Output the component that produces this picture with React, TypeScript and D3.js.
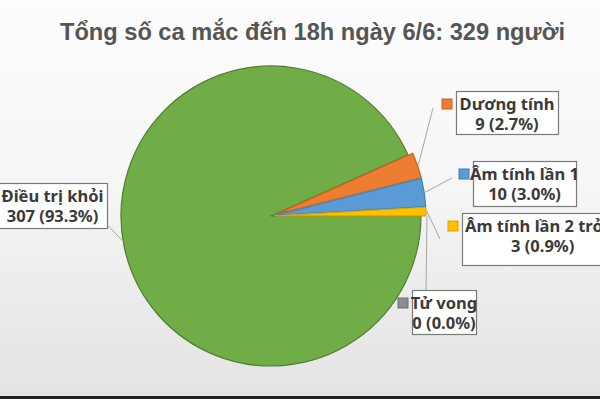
import * as d3 from "d3";
import React from "react";

const categories = ["Dương tính", "Âm tính lần 1", "Âm tính lần 2 trở lên", "Tử vong", "Điều trị khỏi"];
const values = [9, 10, 3, 0, 307];
const valueLabels = ["9 (2.7%)", "10 (3.0%)", "3 (0.9%)", "0 (0.0%)", "307 (93.3%)"];
const colors = ["#ed7d31", "#5b9bd5", "#ffc000", "#8c8c8c", "#70ad47"];
const strokes = ["#c8631e", "#3f7fb8", "#d9a400", "#6f6f6f", "#507e32"];

// label box layout: x, y, w, h, and callout anchor point
const boxes = [
  { x: 456, y: 91, w: 102, h: 43, ax: 433, ay: 108, key: true },
  { x: 473, y: 161, w: 103, h: 45, ax: 452, ay: 178, key: true },
  { x: 462, y: 213, w: 160, h: 52, ax: 440, ay: 239, key: true },
  { x: 412, y: 290, w: 64, h: 44, ax: 426, ay: 290, key: true },
  { x: -2, y: 183, w: 109, h: 45, ax: 85, ay: 202, key: false },
];

const App: React.FC = () => {
  const ref = React.useRef<SVGSVGElement>(null);

  React.useEffect(() => {
    const width = 600;
    const height = 399;
    const cx = 271;
    const cy = 216;
    const radius = 150;
    const explode = 5;

    const svg = d3.select(ref.current);
    svg.selectAll("*").remove();

    const defs = svg.append("defs");
    const grad = defs
      .append("linearGradient")
      .attr("id", "bg")
      .attr("x1", 0)
      .attr("y1", 0)
      .attr("x2", 0)
      .attr("y2", 1);
    grad.append("stop").attr("offset", "0%").attr("stop-color", "#fdfdfd");
    grad.append("stop").attr("offset", "45%").attr("stop-color", "#f6f6f6");
    grad.append("stop").attr("offset", "100%").attr("stop-color", "#e3e3e3");

    svg.append("rect").attr("width", width).attr("height", height).attr("fill", "url(#bg)");
    svg.append("rect").attr("y", 396).attr("width", width).attr("height", 3).attr("fill", "#222");

    svg
      .append("text")
      .attr("x", 60)
      .attr("y", 39.5)
      .attr("font-family", "Liberation Sans, Arial, sans-serif")
      .attr("font-weight", "bold")
      .attr("font-size", 23.5)
      .attr("textLength", 505)
      .attr("lengthAdjust", "spacingAndGlyphs")
      .attr("fill", "#555555")
      .text("Tổng số ca mắc đến 18h ngày 6/6: 329 người");

    const smallTotal = d3.sum(values.slice(0, 4));
    const total = d3.sum(values);
    const start = Math.PI / 2 - (smallTotal / total) * 2 * Math.PI;

    const pie = d3
      .pie<number>()
      .sort(null)
      .startAngle(start)
      .endAngle(start + 2 * Math.PI);
    const arcs = pie(values);

    const arc = d3.arc<d3.PieArcDatum<number>>().innerRadius(0).outerRadius(radius);

    const g = svg.append("g").attr("transform", `translate(${cx},${cy})`);

    const offset = (d: d3.PieArcDatum<number>, i: number) => {
      if (i === 4) return [0, 0];
      const mid = (d.startAngle + d.endAngle) / 2;
      return [Math.sin(mid) * explode, -Math.cos(mid) * explode];
    };

    // draw green first, then the exploded slices
    const order = [4, 0, 1, 2, 3];
    order.forEach((i) => {
      const d = arcs[i];
      if (d.value === 0) return;
      const [ox, oy] = offset(d, i);
      g.append("path")
        .attr("d", arc(d) as string)
        .attr("transform", `translate(${ox},${oy})`)
        .attr("fill", colors[i])
        .attr("stroke", strokes[i])
        .attr("stroke-width", 1.2)
        .attr("stroke-linejoin", "round");
    });

    // callout lines
    const font = "Noto Sans, Open Sans, sans-serif";
    arcs.forEach((d, i) => {
      const b = boxes[i];
      const [ox, oy] = offset(d, i);
      const mid = (d.startAngle + d.endAngle) / 2;
      const r = i === 4 ? radius : radius + 1;
      const px = cx + ox + Math.sin(mid) * r;
      const py = cy + oy - Math.cos(mid) * r;
      const tx = i === 4 ? cx - radius * 0.995 : px;
      const ty = i === 4 ? cy + 26 : py;
      svg
        .append("line")
        .attr("x1", i === 4 ? tx + 2 : px)
        .attr("y1", ty)
        .attr("x2", b.ax)
        .attr("y2", b.ay)
        .attr("stroke", "#a6a6a6")
        .attr("stroke-width", 1);
    });

    boxes.forEach((b, i) => {
      const lg = svg.append("g");
      lg.append("rect")
        .attr("x", b.x + 0.5)
        .attr("y", b.y + 0.5)
        .attr("width", b.w)
        .attr("height", b.h)
        .attr("fill", "#ffffff")
        .attr("stroke", "#7a7a7a")
        .attr("stroke-width", 1.2);
      if (b.key) {
        lg.append("rect")
          .attr("x", b.x - 14)
          .attr("y", b.y + 8)
          .attr("width", 10)
          .attr("height", 10)
          .attr("fill", colors[i])
          .attr("stroke", strokes[i])
          .attr("stroke-width", 1);
      }
      const tx = i === 2 ? b.x + 3 : b.x + b.w / 2;
      const anchor = i === 2 ? "start" : "middle";
      lg.append("text")
        .attr("x", tx)
        .attr("y", b.y + 19)
        .attr("text-anchor", anchor)
        .attr("font-family", font)
        .attr("font-weight", "bold")
        .attr("font-size", 16.5)
        .attr("fill", "#3a3a3a")
        .text(categories[i]);
      lg.append("text")
        .attr("x", i === 2 ? b.x + 49 : b.x + b.w / 2)
        .attr("y", b.y + 39)
        .attr("text-anchor", anchor)
        .attr("font-family", font)
        .attr("font-weight", "bold")
        .attr("font-size", 16.5)
        .attr("fill", "#3a3a3a")
        .text(valueLabels[i]);
    });
  }, []);

  return <svg ref={ref} width={600} height={399} style={{ position: "absolute", left: 0, top: 0 }} />;
};

export default App;
